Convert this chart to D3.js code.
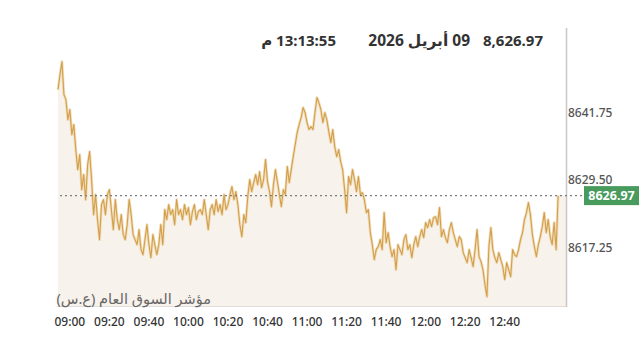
<!DOCTYPE html>
<html><head><meta charset="utf-8">
<script src="https://cdn.jsdelivr.net/npm/d3@7"></script>
<style>
html,body{margin:0;padding:0;background:#fff;width:640px;height:346px;overflow:hidden;font-family:"Noto Sans","DejaVu Sans",sans-serif}
#wrap{position:relative;width:640px;height:346px}
svg{position:absolute;left:0;top:0}
.t{position:absolute;white-space:nowrap;font-weight:700;font-size:15px;color:#333;line-height:18px}
.nm{position:absolute;white-space:nowrap;font-size:14.5px;color:#666;line-height:18px}
</style></head><body><div id="wrap"></div>
<script>
// ---- data ----
const indexValues = [
8646.35,8649.09,8651.47,8645.43,8644.52,8640.86,8642.69,8638.12,8639.95,8635.38,
8631.72,8634.47,8628.07,8630.81,8626.24,8632.64,8635.01,8629.90,8623.50,8627.15,
8622.58,8618.93,8625.33,8626.24,8623.50,8627.15,8628.07,8624.41,8620.76,8626.24,
8622.58,8620.76,8623.50,8619.84,8618.93,8621.67,8626.24,8623.50,8619.84,8618.93,
8618.01,8620.76,8617.10,8616.19,8618.93,8621.67,8618.01,8615.64,8619.84,8618.01,
8616.19,8618.01,8621.67,8618.01,8624.41,8622.58,8625.33,8623.50,8624.41,8621.67,
8626.24,8623.50,8624.41,8622.58,8625.33,8623.50,8624.78,8621.67,8624.05,8625.33,
8622.58,8624.05,8624.41,8623.50,8626.24,8623.50,8620.76,8624.41,8625.33,8623.50,
8626.24,8624.05,8625.33,8623.50,8627.15,8624.41,8625.33,8627.15,8628.62,8626.24,
8627.70,8625.33,8621.67,8619.48,8623.50,8622.04,8626.79,8629.90,8627.70,8629.35,
8630.81,8628.98,8631.36,8628.43,8629.90,8633.55,8629.53,8627.70,8624.96,8628.98,
8631.72,8629.53,8627.15,8624.96,8628.07,8627.15,8632.27,8629.35,8631.72,8634.10,
8636.29,8638.49,8639.95,8641.23,8643.06,8642.14,8640.32,8639.04,8639.58,8639.04,
8642.14,8644.89,8643.97,8642.69,8640.32,8642.14,8640.86,8638.67,8636.66,8639.04,
8635.93,8634.10,8635.38,8633.19,8631.72,8628.07,8623.86,8630.44,8628.98,8631.72,
8629.90,8627.70,8630.44,8627.15,8627.52,8626.24,8623.86,8624.41,8620.21,8618.01,
8615.27,8617.10,8617.65,8618.93,8617.10,8623.86,8618.38,8620.21,8617.65,8615.82,
8617.10,8613.44,8618.01,8617.10,8616.19,8618.93,8619.84,8617.10,8618.01,8615.64,
8618.01,8619.48,8617.65,8619.48,8620.76,8619.29,8622.04,8621.12,8622.58,8621.30,
8622.95,8623.13,8621.67,8624.78,8619.48,8620.76,8619.29,8618.38,8620.76,8622.04,
8620.21,8618.93,8617.65,8619.48,8618.93,8616.55,8615.64,8614.72,8617.10,8615.64,
8613.99,8617.10,8620.76,8615.82,8614.91,8613.44,8610.70,8608.51,8617.65,8621.12,
8617.10,8615.64,8614.72,8616.55,8615.27,8613.99,8611.62,8614.72,8613.44,8612.16,
8617.10,8616.19,8615.82,8617.10,8618.93,8620.21,8622.58,8623.86,8625.69,8623.50,
8619.84,8617.65,8615.82,8618.01,8619.48,8621.30,8623.86,8620.21,8622.58,8619.48,
8618.01,8622.04,8617.10,8626.97
];
const seriesStart = "08:54";
const stepMinutes = 1;
const axisEnd = "13:11";
const currentValue = 8626.97;
const yTickValues = [8617.25, 8629.50, 8641.75];
const xTickLabels = ["09:00","09:20","09:40","10:00","10:20","10:40","11:00","11:20","11:40","12:00","12:20","12:40"];
const titleValue = "8,626.97";
const titleDate = "09 أبريل 2026";
const titleTime = "13:13:55 م";
const indexName = "مؤشر السوق العام (ع.س)";

// ---- layout ----
const W = 640, H = 346;
const plotLeft = 58, plotRight = 566, plotTop = 28, plotBottom = 306;

const parse = d3.timeParse("%H:%M");
const t0 = parse(seriesStart);
const data = indexValues.map((v, i) => ({t: d3.timeMinute.offset(t0, i * stepMinutes), v}));
const tEnd = parse(axisEnd);

const x = d3.scaleTime().domain([t0, tEnd]).range([plotLeft, plotRight]);
const y = d3.scaleLinear().domain([8606.8, 8657.6]).range([plotBottom, plotTop]);

const wrap = d3.select("#wrap");
const svg = wrap.append("svg").attr("width", W).attr("height", H);

// area (extends to right border at last value)
const areaData = data.concat([{t: tEnd, v: data[data.length - 1].v}]);
svg.append("path")
  .datum(areaData)
  .attr("fill", "#f8f2ec")
  .attr("d", d3.area().x(d => x(d.t)).y0(plotBottom).y1(d => y(d.v)));

// borders
svg.append("line").attr("x1", plotLeft - 1).attr("x2", plotRight).attr("y1", plotBottom + 0.5).attr("y2", plotBottom + 0.5)
  .attr("stroke", "#e2ddd8").attr("stroke-width", 1);
svg.append("line").attr("x1", plotRight + 0.5).attr("x2", plotRight + 0.5).attr("y1", plotTop).attr("y2", plotBottom + 1)
  .attr("stroke", "#c8c8c8").attr("stroke-width", 1.5);

// line
const line = d3.line().x(d => x(d.t)).y(d => y(d.v));
svg.append("path").datum(data).attr("fill", "none").attr("stroke", "#eed7ab")
  .attr("stroke-width", 2.8).attr("stroke-opacity", 0.8).attr("stroke-linejoin", "round").attr("d", line);
svg.append("path").datum(data).attr("fill", "none").attr("stroke", "#d39f4c")
  .attr("stroke-width", 1.1).attr("stroke-linejoin", "round").attr("d", line);

// current value dotted line
svg.append("line").attr("x1", plotLeft + 2).attr("x2", 584)
  .attr("y1", y(currentValue)).attr("y2", y(currentValue))
  .attr("stroke", "#7d7d7d").attr("stroke-width", 1.3).attr("stroke-dasharray", "2,3");

// y axis labels
const fmt = d3.format(".2f");
svg.append("g").selectAll("text").data(yTickValues).join("text")
  .attr("x", plotRight + 2).attr("y", d => y(d) - 1.5).attr("dy", "0.35em")
  .attr("font-size", 12).attr("fill", "#555").attr("font-weight", 500)
  .text(d => fmt(d));

// current value badge
const by = y(currentValue);
svg.append("rect").attr("x", 584).attr("y", by - 9.5).attr("width", 55).attr("height", 19)
  .attr("fill", "#489b5d");
svg.append("text").attr("x", 611.5).attr("y", by).attr("dy", "0.36em").attr("text-anchor", "middle")
  .attr("font-size", 12.5).attr("font-weight", 700).attr("fill", "#fff").text(fmt(currentValue));

// x axis labels
svg.append("g").selectAll("text").data(xTickLabels).join("text")
  .attr("x", d => x(parse(d))).attr("y", 322).attr("dy", "0.35em").attr("text-anchor", "middle")
  .attr("font-size", 12).attr("fill", "#333").attr("font-weight", 500)
  .text(d => d);

// title pieces (RTL header)
wrap.append("div").attr("class", "t").style("right", (W - 543) + "px").style("top", "31px").text(titleValue);
wrap.append("div").attr("class", "t").attr("dir", "rtl").style("right", (W - 470) + "px").style("top", "31px")
  .style("font-size", "15.5px").text(titleDate);
wrap.append("div").attr("class", "t").attr("dir", "rtl").style("right", (W - 336) + "px").style("top", "31px").text(titleTime);

// index name
wrap.append("div").attr("class", "nm").attr("dir", "rtl").style("right", (W - 211) + "px").style("top", "289px").text(indexName);
</script></body></html>
